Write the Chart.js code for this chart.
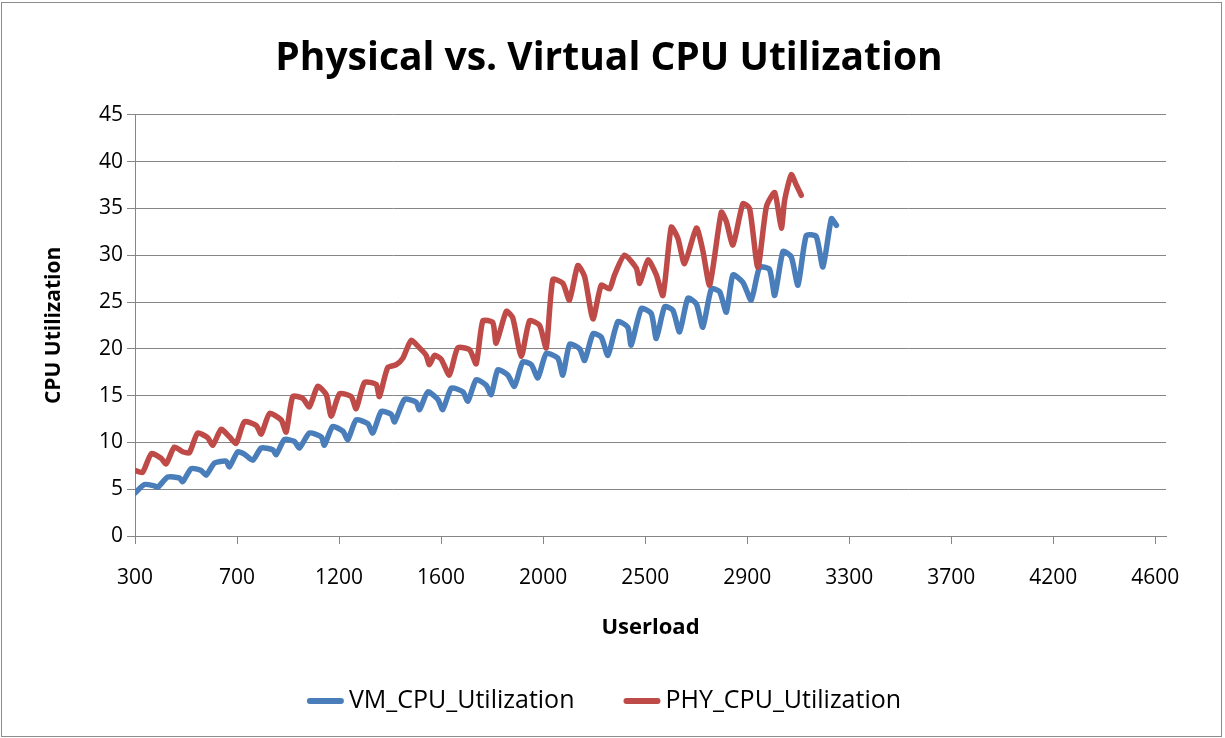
<!DOCTYPE html>
<html>
<head>
<meta charset="utf-8">
<title>Physical vs. Virtual CPU Utilization</title>
<script src="https://cdn.jsdelivr.net/npm/chart.js@4.4.1/dist/chart.umd.min.js"></script>
<style>
  html, body { margin: 0; padding: 0; background: #fff; }
  #chart { display: block; }
</style>
</head>
<body>
<canvas id="chart" width="1225" height="738"></canvas>
<script>
/*=============== DATA ===============*/
// x is the sample number, a userload label is printed every 43 samples
const userloadLabels = ['300', '700', '1200', '1600', '2000', '2500', '2900', '3300', '3700', '4200', '4600'];
const samplesPerLabel = 43;
const lastSample = 434.5;

const vmSample = [0, 4,
  8.2, 9.6, 13.8, 18.7, 20.1, 23.7, 27.9, 30, 33.5, 38.4, 39.8, 43.3, 46.1, 49.6, 53.2,
  58.1, 59.5, 63, 67.2, 69.3, 73.5, 78.5, 79.8, 83.3, 87.6, 89.7, 93.2, 98.1, 100.2, 103.8,
  108, 109.4, 113.6, 118.5, 119.9, 123.4, 127.6, 129.7, 133.3, 138.2, 140.3, 143.8, 148, 150.1, 152.9,
  157.1, 159.9, 163.4, 167, 169.8, 173.3, 178.2, 180.3, 183.2, 187.4, 189.5, 193, 196.5, 199.3, 203.5,
  207.7, 209.1, 213.4, 217.6, 219.7, 223.2, 226.7, 229.5, 233, 236.6, 239.3, 242.9, 246.4, 249.2, 252,
  256.2, 259.7, 263.2, 267.4, 269.6, 273.1, 276.6, 279.4, 282.9, 287.1, 289.9, 293.5, 295.6];
const vmCpu = [4.6, 5.5,
  5.35, 5.2, 6.3, 6.2, 5.8, 7.2, 7.0, 6.5, 7.8, 8.0, 7.4, 9.0, 8.75, 8.1, 9.4,
  9.2, 8.7, 10.3, 10.1, 9.4, 11.0, 10.6, 9.7, 11.7, 11.2, 10.3, 12.4, 12.0, 11.0, 13.3,
  13.0, 12.2, 14.6, 14.3, 13.5, 15.4, 14.6, 13.5, 15.8, 15.4, 14.4, 16.7, 16.1, 15.1, 17.75,
  17.2, 16.0, 18.6, 18.3, 16.9, 19.5, 19.0, 17.2, 20.5, 20.0, 18.75, 21.6, 21.25, 19.3, 22.9,
  22.3, 20.4, 24.3, 23.75, 21.1, 24.5, 24.1, 21.8, 25.4, 24.8, 22.3, 26.4, 26.1, 23.9, 27.9,
  27.1, 25.2, 28.7, 28.5, 25.7, 30.4, 29.8, 26.8, 32.1, 32.0, 28.75, 33.9, 33.2];

const phySample = [0, 3.2, 6.9, 11, 13.1, 16.6, 20.1, 22.9, 26.4, 30.6, 32.8, 36.3, 39.8, 42.6,
  46.1, 51.1, 53.2, 56.7, 61.6, 63.7, 66.5, 70.7, 73.5, 77, 80.6, 82.7, 86.2, 91.1, 93.2, 96.7,
  101.6, 103, 106.5, 110.1, 112.9, 116.4, 119.9, 122.7, 124.1, 126.2, 129, 132.5, 136, 141, 143.8,
  146.6, 150.8, 152.2, 156.5, 159.2, 162.8, 166.3, 170.5, 173.3, 176.1, 180.3, 183.1, 186.6, 189.5,
  193, 196.5, 200, 202.1, 206.3, 211.3, 212.7, 216.2, 219.7, 222.5, 226, 228.8, 231.6, 236.6, 239.3,
  242.2, 247.1, 249.2, 252, 256.2, 259, 262.5, 266.1, 269.6, 272.4, 273.8, 276.6, 278.7, 280.8];
const phyCpu = [7.0, 6.8, 8.8, 8.3, 7.7, 9.5, 9.0, 8.9, 11.0, 10.5, 9.7, 11.4, 10.6, 9.9,
  12.2, 11.8, 10.9, 13.1, 12.4, 11.1, 14.9, 14.7, 13.8, 16.0, 15.1, 12.8, 15.2, 14.9, 13.6, 16.4,
  16.2, 14.9, 18.0, 18.3, 19.0, 20.9, 20.1, 19.3, 18.3, 19.3, 18.9, 17.2, 20.1, 19.9, 18.4,
  23.0, 22.8, 20.6, 24.0, 23.3, 19.2, 23.0, 22.5, 20.1, 27.4, 27.0, 25.2, 28.9, 27.7,
  23.2, 26.8, 26.4, 27.9, 30.0, 28.6, 27.0, 29.5, 27.9, 25.7, 33.0, 31.8, 29.1, 32.9, 30.5,
  26.8, 34.6, 33.6, 31.1, 35.5, 35.0, 28.7, 35.2, 36.7, 32.9, 35.9, 38.6, 37.5, 36.4];

const toPoints = (xs, ys) => xs.map((x, i) => ({x: x, y: ys[i]}))

/*=============== STYLE ===============*/
const gridGrey = '#868686'
const vmBlue = '#4A7EBB'
const phyRed = '#BE4B48'

Chart.defaults.font.family = "'Open Sans', sans-serif"
Chart.defaults.color = '#000'

// white background, thin frame round the whole chart
const chartFrame = {
  id: 'chartFrame',
  beforeDraw(chart) {
    const c = chart.ctx
    c.save()
    c.fillStyle = '#fff'
    c.fillRect(0, 0, chart.width, chart.height)
    c.restore()
  },
  afterDraw(chart) {
    const c = chart.ctx
    c.save()
    c.strokeStyle = '#8c8c8c'
    c.lineWidth = 1
    c.strokeRect(1.5, 2.5, chart.width - 5, chart.height - 4)
    c.restore()
  }
}

// centre the title on the whole frame, not only on the space left of the padding
const titleCentre = {
  id: 'titleCentre',
  afterLayout(chart) {
    if (chart.titleBlock) {
      chart.titleBlock.left = 0
      chart.titleBlock.right = 1218
    }
  }
}

// Excel style legend: short thick line, label right after it
const lineLegend = {
  id: 'lineLegend',
  afterDraw(chart) {
    const c = chart.ctx
    const items = chart.data.datasets.map(ds => ({text: ds.label, color: ds.borderColor}))
    const markerLen = 37, markerGap = 5, itemGap = 49, centreX = 604, y = 701
    c.save()
    c.font = "25px 'Open Sans', sans-serif"
    c.textBaseline = 'middle'
    c.textAlign = 'left'
    const widths = items.map(it => markerLen + markerGap + c.measureText(it.text).width)
    const total = widths.reduce((a, b) => a + b, 0) + itemGap * (items.length - 1)
    let x = centreX - total / 2
    items.forEach((it, i) => {
      c.strokeStyle = it.color
      c.lineWidth = 6
      c.lineCap = 'round'
      c.beginPath()
      c.moveTo(x + 3, y)
      c.lineTo(x + markerLen - 3, y)
      c.stroke()
      c.fillStyle = '#000'
      c.fillText(it.text, x + markerLen + markerGap, y)
      x += widths[i] + itemGap
    })
    c.restore()
  }
}

/*=============== CHART ===============*/
const ctxCpu = document.getElementById('chart').getContext('2d');
new Chart(ctxCpu, {
  type: 'line',
  data: {
    datasets: [{
      label: 'VM_CPU_Utilization',
      data: toPoints(vmSample, vmCpu),
      borderColor: vmBlue,
      backgroundColor: vmBlue,
      borderWidth: 5.5,
      pointRadius: 0,
      tension: 0.2,
      borderJoinStyle: 'round',
      borderCapStyle: 'round',
      order: 1
    }, {
      label: 'PHY_CPU_Utilization',
      data: toPoints(phySample, phyCpu),
      borderColor: phyRed,
      backgroundColor: phyRed,
      borderWidth: 5.5,
      pointRadius: 0,
      tension: 0.2,
      borderJoinStyle: 'round',
      borderCapStyle: 'round',
      order: 0
    }]
  },
  options: {
    responsive: false,
    animation: false,
    devicePixelRatio: 1,
    layout: {
      padding: {left: 0, right: 59, top: 0, bottom: 93}
    },
    plugins: {
      title: {
        display: true,
        text: 'Physical vs. Virtual CPU Utilization',
        color: '#000',
        font: {size: 39, weight: 'bold', lineHeight: 1.2},
        padding: {top: 35, bottom: 33}
      },
      legend: {display: false},
      tooltip: {enabled: false}
    },
    scales: {
      x: {
        type: 'linear',
        min: 0,
        max: lastSample,
        afterBuildTicks: axis => {
          axis.ticks = userloadLabels.map((l, i) => ({value: i * samplesPerLabel}))
        },
        afterFit: axis => { axis.height = 109 },
        ticks: {
          autoSkip: false,
          maxRotation: 0,
          padding: 21,
          font: {size: 21},
          callback: (v, i) => userloadLabels[i]
        },
        grid: {drawOnChartArea: false, tickLength: 8, color: gridGrey},
        border: {color: gridGrey, width: 1},
        title: {
          display: true,
          text: 'Userload',
          font: {size: 22, weight: 'bold'},
          padding: {top: 0, bottom: 4}
        }
      },
      y: {
        min: 0,
        max: 45,
        afterFit: axis => { axis.width = 135 },
        ticks: {stepSize: 5, padding: 4, font: {size: 21}},
        grid: {color: gridGrey, tickLength: 8},
        border: {color: gridGrey, width: 1},
        title: {
          display: true,
          text: 'CPU Utilization',
          font: {size: 21, weight: 'bold'},
          padding: {top: 41, bottom: 0}
        }
      }
    }
  },
  plugins: [chartFrame, titleCentre, lineLegend]
});
</script>
</body>
</html>
